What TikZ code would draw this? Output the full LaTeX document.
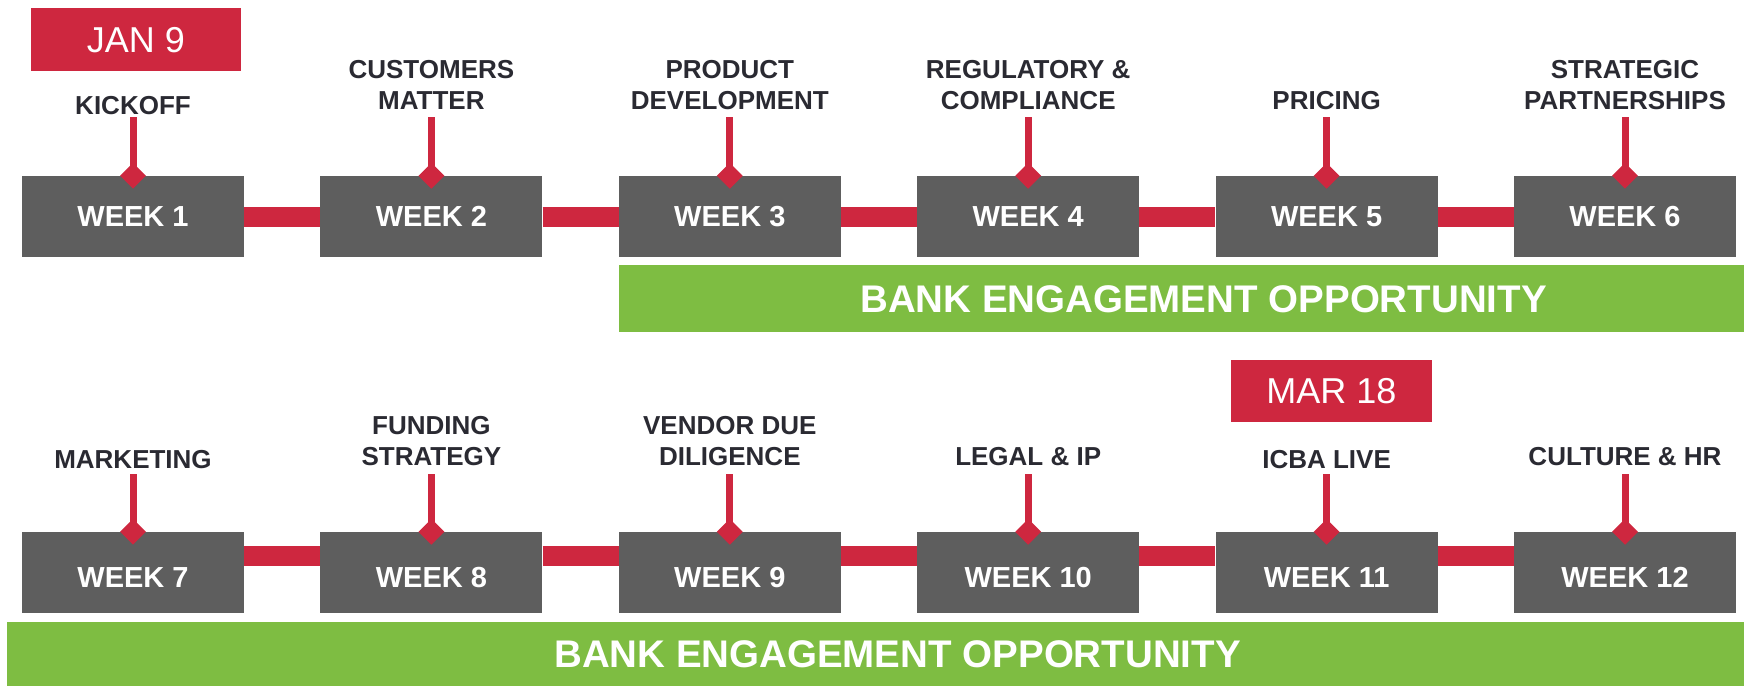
\documentclass[tikz,border=0pt]{standalone}
\usepackage{fontspec}
\setmainfont{Liberation Sans}
\usetikzlibrary{shapes.geometric}
\definecolor{tlred}{RGB}{206,39,63}
\definecolor{tlgray}{RGB}{94,94,94}
\definecolor{tlgreen}{RGB}{126,189,66}
\definecolor{tlink}{RGB}{42,42,50}
\begin{document}
\begin{tikzpicture}[x=1pt,y=-1pt,
  weekbox/.style={rectangle, fill=tlgray, minimum width=222pt, minimum height=81pt, inner sep=0pt},
  weektext/.style={text=white, font=\fontsize{29}{34}\selectfont\bfseries, inner sep=0pt, text height=20.8pt, text depth=0pt},
  marker/.style={diamond, fill=tlred, minimum width=26pt, minimum height=26pt, inner sep=0pt},
  stemline/.style={draw=tlred, line width=7pt},
  bar/.style={draw=tlred, line width=20pt},
  topic/.style={text=tlink, font=\fontsize{26}{31}\selectfont\bfseries, align=center, inner sep=0pt, anchor=south},
  datebox/.style={fill=tlred, text=white, font=\fontsize{36}{40}\selectfont, inner sep=0pt, text height=25.8pt, text depth=0pt},
  band/.style={fill=tlgreen, text=white, font=\fontsize{38.5}{44}\selectfont\bfseries, inner sep=0pt, text height=27.6pt, text depth=0pt}]
\useasboundingbox (0,0) rectangle (1744,686);

% ---- first row: weeks 1 to 6 ----
\foreach \i/\x in {1/133,2/431.4,3/729.8,4/1028.2,5/1326.6,6/1625}{
  \coordinate (s\i) at (\x,117);
  \draw[stemline] (s\i) -- (\x,176);
  \node[weekbox] (w\i) at (\x,216.5) {};
  \node[weektext] (t\i) at (w\i.center) {WEEK \i};
  \node[marker] (d\i) at (w\i.north) {};
}
\foreach \a/\b in {1/2,2/3,3/4,4/5,5/6}
  \draw[bar] (w\a.east) -- (w\b.west);

\node[topic] (l1) at (133,115) {KICKOFF};
\node[topic] (l2) at (431.4,110) {CUSTOMERS\\MATTER};
\node[topic] (l3) at (729.8,110) {PRODUCT\\DEVELOPMENT};
\node[topic] (l4) at (1028.2,110) {REGULATORY \&\\COMPLIANCE};
\node[topic] (l5) at (1326.6,110) {PRICING};
\node[topic] (l6) at (1625,110) {STRATEGIC\\PARTNERSHIPS};

\node[datebox, minimum width=210pt, minimum height=63pt] (jan) at (136,39.5) {JAN 9};

\node[band, minimum width=1169pt, minimum height=67pt] (bank1) at (1203.5,298.5) {BANK ENGAGEMENT OPPORTUNITY};

% ---- second row: weeks 7 to 12 ----
\foreach \i/\x in {7/133,8/431.4,9/729.8,10/1028.2,11/1326.6,12/1625}{
  \coordinate (s\i) at (\x,474);
  \draw[stemline] (s\i) -- (\x,532);
  \node[weekbox] (w\i) at (\x,572.5) {};
  \node[weektext] (t\i) at ([yshift=-4.5pt]w\i.center) {WEEK \i};
  \node[marker] (d\i) at (w\i.north) {};
}
\foreach \a/\b in {7/8,8/9,9/10,10/11,11/12}
  \draw[bar] ([yshift=17pt]w\a.east) -- ([yshift=17pt]w\b.west);

\node[topic] (l7) at (133,469) {MARKETING};
\node[topic] (l8) at (431.4,466) {FUNDING\\STRATEGY};
\node[topic] (l9) at (729.8,466) {VENDOR DUE\\DILIGENCE};
\node[topic] (l10) at (1028.2,466) {LEGAL \& IP};
\node[topic] (l11) at (1326.6,469) {ICBA LIVE};
\node[topic] (l12) at (1625,466) {CULTURE \& HR};

\node[datebox, minimum width=201pt, minimum height=62pt] (mar) at (1331.5,391) {MAR 18};

\node[band, minimum width=1781pt, minimum height=64pt] (bank2) at (897.5,654) {BANK ENGAGEMENT OPPORTUNITY};
\end{tikzpicture}
\end{document}
